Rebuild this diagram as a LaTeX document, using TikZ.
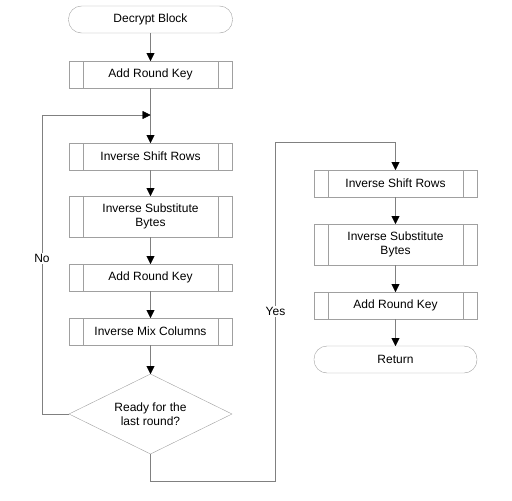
\documentclass[tikz,border=0pt]{standalone}
\usepackage{fontspec}
\setmainfont{Liberation Sans}
\usepackage{tikz}
\usetikzlibrary{positioning}
\usetikzlibrary{shapes.geometric}
\usetikzlibrary{arrows.meta}

\definecolor{linegray}{HTML}{808080}
\definecolor{boxgray}{HTML}{A0A0A0}

\begin{document}
\begin{tikzpicture}[
    proc/.style={draw=boxgray, minimum width=163pt, minimum height=27pt, inner sep=1pt, outer sep=0pt, align=center,
      path picture={\draw[boxgray] ([xshift=14pt]path picture bounding box.north west) -- ([xshift=14pt]path picture bounding box.south west);
        \draw[boxgray] ([xshift=-14pt]path picture bounding box.north east) -- ([xshift=-14pt]path picture bounding box.south east);}},
    term/.style={draw=boxgray, rounded corners=13pt, minimum width=164pt, minimum height=27pt, inner sep=1pt, outer sep=0pt, align=center},
    decision/.style={draw=boxgray, diamond, aspect=2, minimum width=163pt, minimum height=80pt, inner sep=1pt, outer sep=0pt, align=center},
    arrow/.style={draw=linegray, -{Triangle[width=8pt,length=8pt,color=black]}},
    lbl/.style={fill=white, inner sep=1pt},
    node distance=27pt,
    font=\fontsize{12}{14}\selectfont
]
  \useasboundingbox (0pt,0pt) rectangle (512pt,-501pt);

  % Left column
  \node[term] (dec) at (150.5pt,-19.5pt) {Decrypt Block};
  \node[proc, below=28pt of dec] (ark1) {Add Round Key};
  \node[proc, below=55pt of ark1] (lisr) {Inverse Shift Rows};
  \node[proc, below=26pt of lisr, minimum height=41pt] (lisb) {Inverse Substitute\\Bytes};
  \node[proc, below=of lisb] (lark) {Add Round Key};
  \node[proc, below=of lark] (limc) {Inverse Mix Columns};
  \node[decision, below=29pt of limc] (ready) {Ready for the\\last round?};

  % Loop junction
  \coordinate[above=28pt of lisr.north] (join);

  % Right column
  \node[proc, anchor=north west] (risr) at ([xshift=82pt]lisr.south east) {Inverse Shift Rows};
  \node[proc, below=of risr, minimum height=41pt] (risb) {Inverse Substitute\\Bytes};
  \node[proc, below=of risb] (rark) {Add Round Key};
  \node[term, below=of rark, minimum width=163pt] (ret) {Return};

  % Yes route corners
  \coordinate[below=27pt of ready.south] (yesbot);
  \coordinate[above=28pt of risr.north] (yestop);

  % Arrows down the left column
  \draw[arrow] (dec) -- (ark1);
  \draw[arrow] (ark1) -- (lisr);
  \draw[arrow] (lisr) -- (lisb);
  \draw[arrow] (lisb) -- (lark);
  \draw[arrow] (lark) -- (limc);
  \draw[arrow] (limc) -- (ready);

  % No: back to the top of the loop
  \draw[arrow] (ready.west) -- ++(-27pt,0) |- node[pos=0.26, lbl] {No} (join);

  % Yes: over to the last round
  \draw[arrow] (ready.south) -- (yesbot) -- ++(125pt,0) |- node[pos=0.25, lbl] {Yes} (yestop) -- (risr);

  % Arrows down the right column
  \draw[arrow] (risr) -- (risb);
  \draw[arrow] (risb) -- (rark);
  \draw[arrow] (rark) -- (ret);

\end{tikzpicture}
\end{document}
